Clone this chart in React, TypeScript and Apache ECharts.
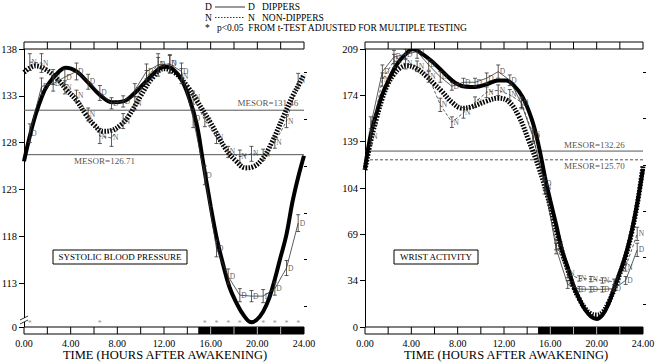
import React, { useEffect, useRef } from "react";
import * as echarts from "echarts";

const FONT = "'Liberation Serif', 'Times New Roman', serif";

// ---------- shared ----------
const dataHours = [0.5, 1.5, 2.5, 3.5, 4.5, 5.5, 6.5, 7.5, 8.5, 9.5, 10.5, 11.5, 12.5, 13.5, 14.5, 15.5, 16.5, 17.5, 18.5, 19.5, 20.5, 21.5, 22.5, 23.5];
const xTickValues = [0, 4, 8, 12, 16, 20, 24];
const xAxisTitle = "TIME (HOURS AFTER AWAKENING)";
const nightSpans = [[0, 15, 0], [15, 24, 1]];
const bandDividers = [2, 4, 6, 8, 10, 12, 14, 16, 18, 20, 22];

// ---------- systolic blood pressure ----------
const sbpDippers = [129.0, 134.0, 134.3, 135.0, 135.6, 134.5, 133.3, 132.2, 132.4, 133.6, 135.6, 136.3, 136.4, 135.6, 130.6, 124.5, 116.7, 113.7, 111.7, 111.6, 111.6, 112.4, 114.6, 119.4];
const sbpDippersSE = [1.0, 0.9, 0.8, 0.8, 0.9, 0.8, 0.8, 0.6, 0.6, 0.7, 0.8, 1.2, 1.0, 0.9, 1.0, 1.0, 0.9, 0.8, 0.7, 0.6, 0.7, 0.7, 0.8, 0.9];
const sbpNonDippers = [136.6, 136.5, 135.0, 133.9, 133.0, 131.0, 128.7, 128.5, 130.3, 132.2, 135.0, 136.3, 136.4, 135.1, 132.8, 130.4, 128.5, 127.0, 126.5, 126.8, 126.7, 128.0, 130.3, 134.6];
const sbpNonDippersSE = [0.9, 1.0, 0.8, 0.7, 0.6, 0.7, 0.8, 0.9, 0.8, 0.7, 0.7, 0.8, 0.9, 0.8, 0.7, 0.7, 0.6, 0.6, 0.7, 0.8, 0.6, 0.6, 0.7, 0.8];
const sbpDipperFitHours = [0, 0.5, 1, 1.5, 2, 3, 3.6, 4.5, 5.5, 6.5, 7.6, 8.5, 9.5, 10.5, 11.3, 12, 12.7, 13.5, 14.2, 14.8, 15.3, 16, 16.5, 17, 17.6, 18.2, 18.8, 19.5, 20.2, 20.8, 21.3, 22, 22.5, 23, 23.5, 24];
const sbpDipperFitValues = [126.0, 128.7, 131.0, 132.8, 134.1, 135.6, 136.0, 135.6, 134.4, 133.1, 132.3, 132.4, 133.3, 134.6, 135.6, 136.1, 135.9, 134.7, 132.6, 130.0, 126.3, 121.2, 117.9, 115.3, 112.6, 110.9, 109.6, 108.8, 109.4, 110.7, 112.5, 115.8, 118.2, 121.6, 124.3, 126.6];
const sbpNonDipperFitHours = [0, 1, 2, 3, 3.6, 4.5, 5.3, 6, 6.8, 7.5, 8.3, 9, 10, 11, 12, 13, 14, 14.8, 16, 17.3, 18.2, 19, 19.6, 20.4, 21.2, 22.2, 23, 23.6, 24];
const sbpNonDipperFitValues = [135.5, 136.2, 135.7, 134.6, 133.7, 132.5, 131.0, 129.9, 129.2, 129.3, 129.9, 130.9, 133.0, 134.9, 135.9, 135.4, 134.0, 132.5, 130.1, 127.3, 126.0, 125.3, 125.4, 126.2, 127.9, 130.7, 132.9, 134.3, 135.3];
const sbpMesorDippers = 126.71;
const sbpMesorNonDippers = 131.46;
const sbpSignificantHours = [0.5, 6.5, 15.5, 16.5, 17.5, 18.5, 19.5, 20.5, 21.5, 22.5, 23.5];
const sbpYTicks = [108.3, 113, 118, 123, 128, 133, 138];
const sbpYTickLabels = ["0", "113", "118", "123", "128", "133", "138"];
const sbpYMinorTicks = [110.5, 115.5, 120.5, 125.5, 130.5, 135.5];

// ---------- wrist activity ----------
const wristDippers = [152, 192, 203, 205, 207, 197, 188, 181, 184, 184, 187, 192, 185.5, 168, 143, 108, 59, 32, 28.5, 28.3, 28.3, 28.8, 35, 58];
const wristDippersSE = [6, 5, 5, 4, 5, 4, 4, 3, 3, 3, 4, 5, 4, 4, 5, 5, 4, 3, 2, 2, 2, 2, 3, 5];
const wristNonDippers = [143, 186, 200, 198, 196, 188, 167, 154, 161, 169, 176.5, 178, 174.5, 169, 144.5, 105, 62, 40, 36.5, 36, 35, 34, 45, 70];
const wristNonDippersSE = [6, 5, 5, 4, 4, 4, 5, 4, 4, 4, 4, 4, 4, 4, 5, 5, 4, 3, 2, 2, 2, 2, 3, 5];
const wristDipperFitHours = [0, 0.5, 1, 1.5, 2, 2.75, 3.5, 4.1, 5, 6, 7, 7.8, 8.7, 9.5, 10.5, 11.5, 12.2, 12.8, 13.6, 14.4, 15, 15.6, 16, 16.5, 17, 17.5, 18, 18.5, 19, 19.5, 20, 20.5, 21, 21.5, 22, 22.5, 23, 23.5, 24];
const wristDipperFitValues = [119, 145, 161, 175, 185, 197.5, 205, 208.8, 205, 198, 189.5, 183.5, 180.7, 180.5, 182.5, 185.3, 185.3, 182, 173, 156, 136, 110, 95, 77, 58, 45, 31, 21, 13, 8, 6, 9, 17, 29, 41, 54, 71, 93, 119];
const wristNonDipperFitHours = [0, 0.5, 1, 1.5, 2, 2.5, 3, 3.6, 4.5, 5.3, 6, 6.6, 7.5, 8.4, 9.2, 10.4, 11.5, 12.4, 13.3, 14.1, 15, 15.7, 16.3, 17, 17.5, 18, 18.5, 19, 19.5, 20, 20.5, 21, 21.5, 22, 22.5, 23, 23.5, 24];
const wristNonDipperFitValues = [118, 140, 157, 172, 183, 190, 194.5, 196.5, 194, 188.5, 182.5, 177.5, 169, 164.5, 165.5, 169.5, 172, 169.5, 158, 141, 120, 100, 80, 57, 43, 30, 21, 14, 10, 9, 11, 18, 28, 40, 53, 70, 92, 121];
const wristMesorDippers = 132.26;
const wristMesorNonDippers = 125.7;
const wristYTicks = [0, 34.83, 69.67, 104.5, 139.33, 174.17, 209];
const wristYTickLabels = ["0", "34", "69", "104", "139", "174", "209"];
const wristYMinorTicks = [17.42, 52.25, 87.08, 121.92, 156.75, 191.58];

const pairs = (xs: number[], ys: number[]) => xs.map((x, i) => [x, ys[i]]);
const bars = (xs: number[], ys: number[], se: number[]) => xs.map((x, i) => [x, ys[i] - se[i], ys[i] + se[i]]);

const labelOf = (ticks: number[], labels: string[]) => (v: number) => {
  const i = ticks.findIndex((t) => Math.abs(t - v) < 0.01);
  return i >= 0 ? labels[i] : "";
};

function errorBarSeries(xi: number, yi: number, data: number[][]) {
  return {
    type: "custom",
    xAxisIndex: xi,
    yAxisIndex: yi,
    silent: true,
    z: 4,
    data,
    renderItem: (params: any, api: any) => {
      const x = api.value(0);
      const p1 = api.coord([x, api.value(1)]);
      const p2 = api.coord([x, api.value(2)]);
      const w = 2;
      const st = { stroke: "#333", lineWidth: 0.8 };
      return {
        type: "group",
        children: [
          { type: "line", shape: { x1: p1[0], y1: p1[1], x2: p2[0], y2: p2[1] }, style: st },
          { type: "line", shape: { x1: p1[0] - w, y1: p1[1], x2: p1[0] + w, y2: p1[1] }, style: st },
          { type: "line", shape: { x1: p2[0] - w, y1: p2[1], x2: p2[0] + w, y2: p2[1] }, style: st },
        ],
      };
    },
  };
}

function letterSeries(xi: number, yi: number, data: number[][], letter: string) {
  return {
    type: "scatter",
    xAxisIndex: xi,
    yAxisIndex: yi,
    silent: true,
    z: 5,
    symbolSize: 1,
    itemStyle: { color: "rgba(0,0,0,0)" },
    label: { show: true, formatter: letter, position: "right", distance: 1, fontSize: 7.5, fontFamily: FONT, color: "#333" },
    data,
  };
}

function bandSeries(xi: number, yi: number) {
  return [
    {
      type: "custom",
      xAxisIndex: xi,
      yAxisIndex: yi,
      clip: false,
      silent: true,
      z: 6,
      data: nightSpans,
      renderItem: (params: any, api: any) => {
        const cs = params.coordSys;
        const bottom = cs.y + cs.height;
        const x0 = api.coord([api.value(0), 0])[0];
        const x1 = api.coord([api.value(1), 0])[0];
        const dark = api.value(2) === 1;
        const children: any[] = [
          { type: "rect", shape: { x: x0, y: bottom, width: x1 - x0, height: 7 }, style: { fill: dark ? "#000" : "#fff", stroke: "#000", lineWidth: 1 } },
        ];
        if (params.dataIndex === 0) {
          const xe = api.coord([24, 0])[0];
          children.push({ type: "rect", shape: { x: x0, y: cs.y - 7, width: xe - x0, height: 7 }, style: { fill: "#fff", stroke: "#000", lineWidth: 1 } });
        }
        return { type: "group", children };
      },
    },
    {
      type: "custom",
      xAxisIndex: xi,
      yAxisIndex: yi,
      clip: false,
      silent: true,
      z: 7,
      data: bandDividers.map((h) => [h]),
      renderItem: (params: any, api: any) => {
        const cs = params.coordSys;
        const bottom = cs.y + cs.height;
        const h = api.value(0);
        const x = api.coord([h, 0])[0];
        return {
          type: "group",
          children: [
            { type: "line", shape: { x1: x, y1: bottom, x2: x, y2: bottom + 7 }, style: { stroke: h > 15 ? "#bbb" : "#000", lineWidth: 1 } },
            { type: "line", shape: { x1: x, y1: cs.y - 7, x2: x, y2: cs.y }, style: { stroke: "#000", lineWidth: 1 } },
          ],
        };
      },
    },
  ];
}

function mesorLine(xi: number, yi: number, v: number, dashed: boolean) {
  return {
    type: "line",
    xAxisIndex: xi,
    yAxisIndex: yi,
    silent: true,
    z: 1,
    symbol: "none",
    lineStyle: { color: "#555", width: 1, type: dashed ? [3, 2] : "solid" },
    data: [[0, v], [24, v]],
  };
}

function mesorLabel(xi: number, yi: number, h: number, v: number, pos: string, dist: number) {
  return {
    type: "scatter",
    xAxisIndex: xi,
    yAxisIndex: yi,
    silent: true,
    z: 3,
    symbolSize: 1,
    itemStyle: { color: "rgba(0,0,0,0)" },
    label: { show: true, formatter: "MESOR=" + v.toFixed(2), position: pos, distance: dist, fontSize: 9, fontFamily: FONT, color: "#222" },
    data: [[h, v]],
  };
}

function fitLine(xi: number, yi: number, xs: number[], ys: number[], dotted: boolean) {
  return {
    type: "line",
    xAxisIndex: xi,
    yAxisIndex: yi,
    silent: true,
    z: 2,
    smooth: 0.4,
    symbol: "none",
    lineStyle: dotted ? { color: "#000", width: 5, type: [1.6, 1.4], cap: "butt" } : { color: "#000", width: 4 },
    data: pairs(xs, ys),
  };
}

function dataLine(xi: number, yi: number, ys: number[], dashed: boolean) {
  return {
    type: "line",
    xAxisIndex: xi,
    yAxisIndex: yi,
    silent: true,
    z: 3,
    symbol: "none",
    lineStyle: { color: "#333", width: 0.8, type: dashed ? [3, 2] : "solid" },
    data: pairs(dataHours, ys),
  };
}

function xAxis(gridIndex: number) {
  return {
    type: "value",
    gridIndex,
    min: 0,
    max: 24,
    interval: 4,
    axisLine: { show: false },
    axisTick: { show: false },
    splitLine: { show: false },
    axisLabel: { formatter: (v: number) => v.toFixed(2), margin: 11, fontSize: 10, fontFamily: FONT, color: "#000", customValues: xTickValues },
  };
}

function yAxes(gridIndex: number, min: number, max: number, ticks: number[], labels: string[], minor: number[]) {
  return [
    {
      type: "value",
      gridIndex,
      min,
      max,
      axisLine: { show: true, lineStyle: { color: "#000", width: 1 } },
      axisTick: { show: true, length: 5, customValues: ticks, lineStyle: { color: "#000" } },
      axisLabel: { customValues: ticks, formatter: labelOf(ticks, labels), margin: 7, fontSize: 10.5, fontFamily: FONT, color: "#000" },
      splitLine: { show: false },
    },
    {
      type: "value",
      gridIndex,
      min,
      max,
      axisLine: { show: false },
      axisTick: { show: true, length: 3, customValues: minor, lineStyle: { color: "#000" } },
      axisLabel: { show: false },
      splitLine: { show: false },
    },
  ];
}

export default function App() {
  const ref = useRef<HTMLDivElement>(null);
  useEffect(() => {
    if (!ref.current) return;
    const chart = echarts.init(ref.current, null, { renderer: "svg" });
    const sbpMin = sbpYTicks[0];
    const option: any = {
      animation: false,
      backgroundColor: "#fff",
      grid: [
        { left: 24, top: 49, width: 280, height: 278, containLabel: false, outerBoundsMode: "none" },
        { left: 365, top: 49, width: 278, height: 278, containLabel: false, outerBoundsMode: "none" },
      ],
      xAxis: [xAxis(0), xAxis(1)],
      yAxis: [
        ...yAxes(0, sbpMin, 138, sbpYTicks, sbpYTickLabels, sbpYMinorTicks),
        ...yAxes(1, 0, 209, wristYTicks, wristYTickLabels, wristYMinorTicks),
      ],
      series: [
        // left panel
        mesorLine(0, 0, sbpMesorNonDippers, false),
        mesorLine(0, 0, sbpMesorDippers, false),
        fitLine(0, 0, sbpNonDipperFitHours, sbpNonDipperFitValues, true),
        fitLine(0, 0, sbpDipperFitHours, sbpDipperFitValues, false),
        dataLine(0, 0, sbpNonDippers, true),
        dataLine(0, 0, sbpDippers, false),
        errorBarSeries(0, 0, bars(dataHours, sbpNonDippers, sbpNonDippersSE)),
        errorBarSeries(0, 0, bars(dataHours, sbpDippers, sbpDippersSE)),
        letterSeries(0, 0, pairs(dataHours, sbpNonDippers), "N"),
        letterSeries(0, 0, pairs(dataHours, sbpDippers), "D"),
        mesorLabel(0, 0, 20.9, sbpMesorNonDippers, "top", 2),
        mesorLabel(0, 0, 6.9, sbpMesorDippers, "bottom", 1),
        {
          type: "scatter",
          xAxisIndex: 0,
          yAxisIndex: 0,
          silent: true,
          z: 1,
          symbolSize: 1,
          itemStyle: { color: "rgba(0,0,0,0)" },
          label: { show: true, formatter: "*", position: "inside", fontSize: 8, fontFamily: FONT, color: "#777" },
          data: sbpSignificantHours.map((h) => [h, sbpMin + 0.35]),
        },
        ...bandSeries(0, 0),
        // right panel
        mesorLine(1, 2, wristMesorDippers, false),
        mesorLine(1, 2, wristMesorNonDippers, true),
        fitLine(1, 2, wristNonDipperFitHours, wristNonDipperFitValues, true),
        fitLine(1, 2, wristDipperFitHours, wristDipperFitValues, false),
        dataLine(1, 2, wristNonDippers, true),
        dataLine(1, 2, wristDippers, false),
        errorBarSeries(1, 2, bars(dataHours, wristNonDippers, wristNonDippersSE)),
        errorBarSeries(1, 2, bars(dataHours, wristDippers, wristDippersSE)),
        letterSeries(1, 2, pairs(dataHours, wristNonDippers), "N"),
        letterSeries(1, 2, pairs(dataHours, wristDippers), "D"),
        mesorLabel(1, 2, 19.8, wristMesorDippers, "top", 1),
        mesorLabel(1, 2, 19.8, wristMesorNonDippers, "bottom", 1),
        ...bandSeries(1, 2),
      ],
      graphic: [
        // legend
        { type: "text", left: 205, top: 2, style: { text: "D", font: `9.5px ${FONT}`, fill: "#000" } },
        { type: "line", shape: { x1: 215, y1: 7, x2: 245, y2: 7 }, style: { stroke: "#000", lineWidth: 0.8 } },
        { type: "text", left: 248, top: 2, style: { text: "D   DIPPERS", font: `9.5px ${FONT}`, fill: "#000" } },
        { type: "text", left: 205, top: 12.5, style: { text: "N", font: `9.5px ${FONT}`, fill: "#000" } },
        { type: "line", shape: { x1: 215, y1: 17.5, x2: 245, y2: 17.5 }, style: { stroke: "#000", lineWidth: 0.8, lineDash: [1.5, 1.5] } },
        { type: "text", left: 248, top: 12.5, style: { text: "N   NON-DIPPERS", font: `9.5px ${FONT}`, fill: "#000" } },
        { type: "text", left: 205, top: 23, style: { text: "*   p<0.05  FROM t-TEST ADJUSTED FOR MULTIPLE TESTING", font: `9.5px ${FONT}`, fill: "#000" } },
        // x-axis titles
        { type: "text", x: 165, y: 355, style: { text: xAxisTitle, font: `12.5px ${FONT}`, fill: "#000", align: "center", verticalAlign: "middle" } },
        { type: "text", x: 506, y: 355, style: { text: xAxisTitle, font: `12.5px ${FONT}`, fill: "#000", align: "center", verticalAlign: "middle" } },
        // panel labels
        { type: "rect", shape: { x: 53, y: 250, width: 134, height: 14 }, style: { fill: "#fff", stroke: "#000", lineWidth: 1 }, z: 20 },
        { type: "text", x: 120, y: 257, style: { text: "SYSTOLIC BLOOD PRESSURE", font: `9px ${FONT}`, fill: "#000", align: "center", verticalAlign: "middle" }, z: 21 },
        { type: "rect", shape: { x: 394, y: 250, width: 84, height: 14 }, style: { fill: "#fff", stroke: "#000", lineWidth: 1 }, z: 20 },
        { type: "text", x: 436, y: 257, style: { text: "WRIST ACTIVITY", font: `9px ${FONT}`, fill: "#000", align: "center", verticalAlign: "middle" }, z: 21 },
        // axis break mark on left y axis
        { type: "rect", shape: { x: 21, y: 318, width: 6, height: 4 }, style: { fill: "#fff" }, z: 20 },
        { type: "line", shape: { x1: 20, y1: 320, x2: 28, y2: 316 }, style: { stroke: "#000", lineWidth: 0.8 }, z: 21 },
        { type: "line", shape: { x1: 20, y1: 324, x2: 28, y2: 320 }, style: { stroke: "#000", lineWidth: 0.8 }, z: 21 },
      ],
    };
    chart.setOption(option);
    return () => chart.dispose();
  }, []);
  return <div ref={ref} style={{ position: "fixed", left: 0, top: 0, width: 655, height: 363, background: "#fff" }} />;
}
